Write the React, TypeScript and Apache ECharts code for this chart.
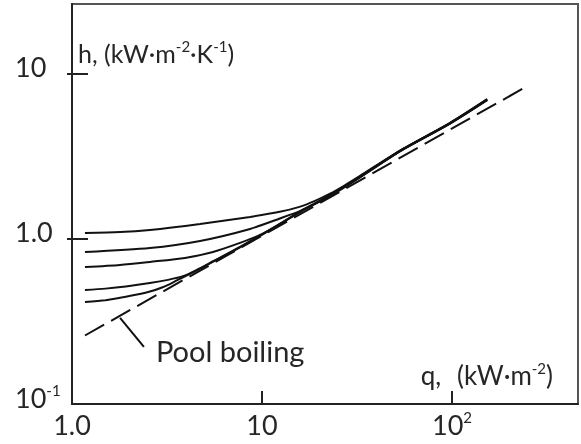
import { useEffect, useRef } from "react";
import * as echarts from "echarts";

// Axis tick values (log scales)
const xTickValues = [1, 10, 100];
const xInnerTicks = [10, 100];
const yTickValues = [0.1, 1, 10];
const yCrossTicks = [1, 10];

// Pool boiling reference line (dashed)
const poolQ = [1.17, 234];
const poolH = [0.26, 8.1];

// Flow boiling curves: heat flux q (kW/m2) and coefficient h (kW/m2K)
const curve1Q = [1.17, 1.79, 2.57, 4.72, 8.65, 12.4, 15.9, 19, 22.8, 27, 32.8, 53.2, 97.6, 153];
const curve1H = [1.087, 1.10, 1.134, 1.233, 1.36, 1.46, 1.57, 1.70, 1.88, 2.10, 2.41, 3.43, 5.05, 7.03];
const curve2Q = [1.17, 2.57, 4.72, 8.65, 12.4, 15.9, 19, 22.8, 27, 32.8, 53.2, 97.6, 153];
const curve2H = [0.834, 0.882, 0.973, 1.15, 1.33, 1.48, 1.64, 1.84, 2.07, 2.39, 3.42, 5.03, 7.0];
const curve3Q = [1.17, 1.79, 2.57, 3.93, 5.52, 7.66, 9.76, 12.4, 15.9, 22.8, 32.8, 53.2, 97.6, 153];
const curve3H = [0.676, 0.696, 0.726, 0.767, 0.834, 0.946, 1.057, 1.233, 1.465, 1.83, 2.38, 3.41, 5.02, 6.97];
const curve4Q = [1.17, 1.5, 1.92, 2.57, 3.2, 3.84, 4.6, 5.5, 7.66, 11.0, 15.9, 22.8, 32.8, 53.2, 97.6, 153];
const curve4H = [0.49, 0.50, 0.515, 0.54, 0.565, 0.595, 0.655, 0.73, 0.895, 1.135, 1.465, 1.83, 2.37, 3.40, 5.01, 6.95];
const curve5Q = [1.17, 1.5, 1.79, 2.2, 2.57, 3.0, 3.4, 3.84, 4.6, 5.5, 7.66, 11.0, 15.9, 22.8, 32.8, 53.2, 97.6, 153];
const curve5H = [0.415, 0.425, 0.44, 0.46, 0.48, 0.51, 0.545, 0.585, 0.65, 0.725, 0.89, 1.13, 1.46, 1.82, 2.36, 3.39, 5.0, 6.93];

// Leader line for the "Pool boiling" annotation
const leaderQ = [1.79, 2.39];
const leaderH = [0.332, 0.222];

const pairs = (xs: number[], ys: number[]) => xs.map((x, i) => [x, ys[i]]);

const FONT = "Lato";
const TEXT = "#262626";

const supRich = {
  sup: { fontSize: 15, lineHeight: 16, verticalAlign: "top" as const, fontFamily: FONT, color: TEXT },
  g: { width: 16 },
};

function fmtLog(v: number) {
  const e = Math.round(Math.log10(v));
  if (e === 0) return "1.0";
  if (e === 1) return "10";
  return "10{sup|" + e + "}";
}

export default function App() {
  const ref = useRef<HTMLDivElement>(null);
  useEffect(() => {
    if (!ref.current) return;
    const chart = echarts.init(ref.current, null, { renderer: "svg" });
    const curveSeries = [
      pairs(curve1Q, curve1H),
      pairs(curve2Q, curve2H),
      pairs(curve3Q, curve3H),
      pairs(curve4Q, curve4H),
      pairs(curve5Q, curve5H),
    ].map((d, i) => ({
      name: "curve" + (i + 1),
      type: "line",
      data: d,
      smooth: 0.25,
      showSymbol: false,
      symbol: "none",
      lineStyle: { color: "#111", width: 2 },
      z: 3,
    }));
    chart.setOption({
      animation: false,
      textStyle: { fontFamily: FONT, color: TEXT },
      grid: {
        left: 72,
        top: 4,
        right: 3,
        bottom: 40,
        show: true,
        borderColor: "#555",
        borderWidth: 2,
      },
      xAxis: {
        type: "log",
        min: 1,
        max: 460,
        logBase: 10,
        name: "q,{g| }(kW·m{sup|-2})",
        nameLocation: "end",
        nameGap: -25,
        nameTextStyle: {
          fontFamily: FONT,
          fontSize: 26,
          color: TEXT,
          align: "right",
          verticalAlign: "bottom",
          lineHeight: 30,
          padding: [0, 0, 14, 0],
          rich: supRich,
        },
        axisLine: { lineStyle: { color: "#222", width: 2 } },
        axisTick: { show: true, inside: true, length: 13, customValues: xInnerTicks, lineStyle: { color: "#222", width: 2 } },
        axisLabel: {
          customValues: xTickValues,
          formatter: fmtLog,
          margin: 5,
          fontSize: 27,
          lineHeight: 30,
          fontFamily: FONT,
          color: TEXT,
          rich: supRich,
        },
        splitLine: { show: false },
        minorTick: { show: false },
      },
      yAxis: [
        {
          type: "log",
          position: "left",
          min: 0.1,
          max: 26.5,
          logBase: 10,
          name: "h, (kW·m{sup|-2}·K{sup|-1})",
          nameLocation: "end",
          nameGap: -49,
          nameTextStyle: {
            fontFamily: FONT,
            fontSize: 25,
            color: TEXT,
            align: "left",
            verticalAlign: "middle",
            lineHeight: 30,
            padding: [0, 0, 0, 6],
            rich: supRich,
          },
          axisLine: { lineStyle: { color: "#222", width: 2 } },
          axisTick: { show: true, inside: true, length: 16, customValues: yCrossTicks, lineStyle: { color: "#222", width: 2 } },
          axisLabel: {
            customValues: yTickValues,
            formatter: fmtLog,
            align: "left",
            margin: 57,
            fontSize: 27,
            lineHeight: 30,
            fontFamily: FONT,
            color: TEXT,
            padding: [0, 0, 14, 0],
            rich: supRich,
          },
          splitLine: { show: false },
        },
        {
          type: "log",
          position: "left",
          offset: 0,
          min: 0.1,
          max: 26.5,
          logBase: 10,
          axisLine: { show: false },
          axisTick: { show: true, inside: false, length: 5, customValues: yCrossTicks, lineStyle: { color: "#222", width: 2 } },
          axisLabel: { show: false },
          splitLine: { show: false },
        },
      ],
      series: [
        ...curveSeries,
        {
          name: "Pool boiling",
          type: "line",
          data: pairs(poolQ, poolH),
          showSymbol: false,
          symbol: "none",
          lineStyle: { color: "#111", width: 2, type: [22, 8] },
          z: 2,
        },
        {
          name: "leader",
          type: "line",
          data: pairs(leaderQ, leaderH),
          showSymbol: false,
          symbol: "none",
          lineStyle: { color: "#111", width: 2 },
          endLabel: {
            show: true,
            formatter: "Pool boiling",
            distance: 12,
            fontFamily: FONT,
            fontSize: 29,
            color: TEXT,
            offset: [0, 4],
          },
          z: 4,
        },
      ],
    });
    return () => chart.dispose();
  }, []);
  return <div ref={ref} style={{ position: "fixed", left: 0, top: 0, width: 581, height: 444 }} />;
}
